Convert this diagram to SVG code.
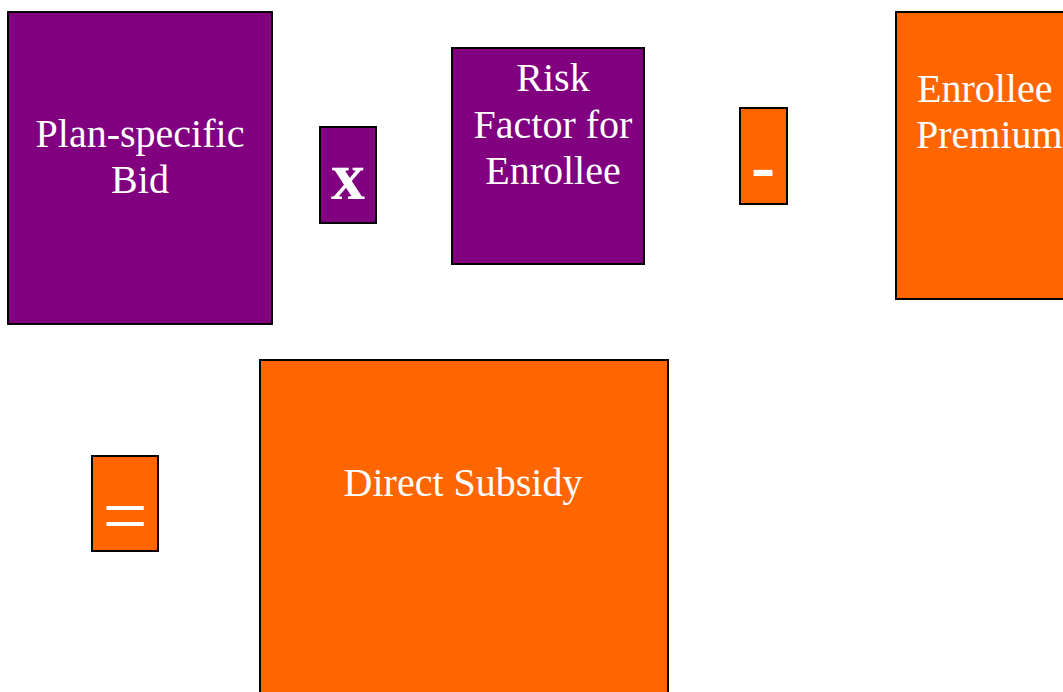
<svg xmlns="http://www.w3.org/2000/svg" width="1063" height="692" viewBox="0 0 1063 692">
<style>
.p{fill:#800080;stroke:#000;stroke-width:2}
.o{fill:#FF6600;stroke:#000;stroke-width:2}
.t{font-family:"Liberation Serif","Times New Roman",serif;font-size:40px;fill:#fff}
.c{text-anchor:middle}
</style>
<rect width="1063" height="692" fill="#fff"/>
<g id="bid"><rect class="p" x="8" y="12" width="264" height="312"/><text class="t c" x="140" y="147">Plan-specific</text><text class="t c" x="140" y="193">Bid</text></g>
<g id="times"><rect class="p" x="320" y="127" width="56" height="96"/><text class="t c" x="348" y="199" style="font-size:68px;font-weight:bold">x</text></g>
<g id="risk"><rect class="p" x="452" y="48" width="192" height="216"/><text class="t c" x="553" y="91">Risk</text><text class="t c" x="553" y="138">Factor for</text><text class="t c" x="553" y="184">Enrollee</text></g>
<g id="minus"><rect class="o" x="740" y="108" width="47" height="96"/><text class="t c" x="763" y="189.5" style="font-size:72px;font-weight:bold">-</text></g>
<g id="premium"><rect class="o" x="896" y="12" width="180" height="287"/><text class="t" x="917" y="102">Enrollee</text><text class="t" x="916" y="148">Premium</text></g>
<g id="equals"><rect class="o" x="92" y="456" width="66" height="95"/><text class="t c" x="125" y="543" style="font-size:80px">=</text></g>
<g id="subsidy"><rect class="o" x="260" y="360" width="408" height="340"/><text class="t c" x="463" y="496">Direct Subsidy</text></g>
<g id="connectors"/>
</svg>
